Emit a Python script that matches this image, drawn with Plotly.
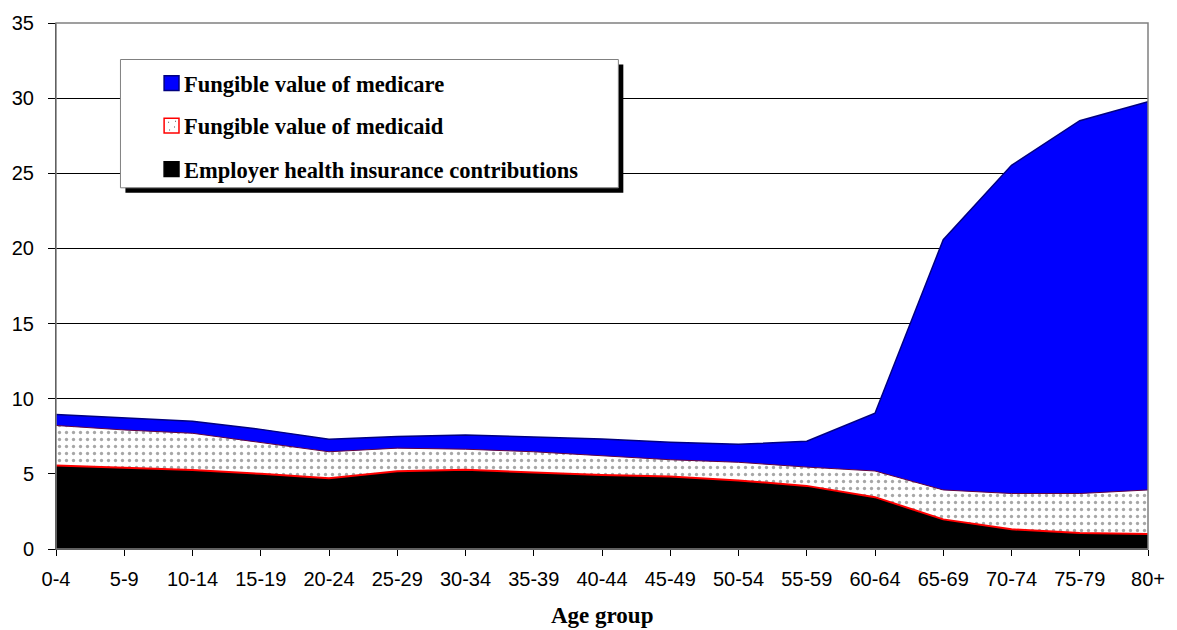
import plotly.graph_objects as go

age_groups = ["0-4", "5-9", "10-14", "15-19", "20-24", "25-29", "30-34", "35-39",
              "40-44", "45-49", "50-54", "55-59", "60-64", "65-69", "70-74", "75-79", "80+"]
employer = [5.55, 5.39, 5.26, 5.00, 4.71, 5.18, 5.28, 5.09, 4.93, 4.82, 4.56, 4.20, 3.45, 1.97, 1.31, 1.07, 1.00]
medicaid = [2.67, 2.53, 2.44, 2.08, 1.76, 1.53, 1.36, 1.38, 1.27, 1.12, 1.21, 1.25, 1.74, 1.96, 2.38, 2.62, 2.93]
medicare = [0.73, 0.81, 0.80, 0.88, 0.83, 0.77, 0.95, 0.99, 1.12, 1.16, 1.20, 1.72, 3.84, 16.65, 21.84, 24.81, 25.83]

legend_labels = ["Fungible value of medicare", "Fungible value of medicaid",
                 "Employer health insurance contributions"]

fig = go.Figure()
fig.add_trace(go.Scatter(x=age_groups, y=employer, stackgroup="s", mode="lines",
                         line=dict(color="#ff0000", width=2), fillcolor="#000000",
                         name=legend_labels[2], showlegend=False))
fig.add_trace(go.Scatter(x=age_groups, y=medicaid, stackgroup="s", mode="lines",
                         line=dict(color="#600040", width=1),
                         fillpattern=dict(shape=".", fgcolor="#505050", bgcolor="#ffffff",
                                          size=7, solidity=0.18),
                         name=legend_labels[1], showlegend=False))
fig.add_trace(go.Scatter(x=age_groups, y=medicare, stackgroup="s", mode="lines",
                         line=dict(color="#000080", width=1.5), fillcolor="#0000ff",
                         name=legend_labels[0], showlegend=False))

W, H = 1177, 630
L, R, T, B = 53, 1154, 16, 549

def px(x):
    return (x - L) / (R - L)

def py(y):
    return (B - y) / (B - T)

shapes = []
# plot border (top/right gray)
shapes.append(dict(type="rect", xref="paper", yref="paper", x0=0, y0=0, x1=1, y1=1,
                   line=dict(color="#808080", width=1.5), layer="above"))

# manual legend box with shadow
bx0, by0, bx1, by1 = 118, 53, 620, 183
shapes.append(dict(type="rect", xref="paper", yref="paper", x0=px(bx0 + 5), y0=py(by1 + 5),
                   x1=px(bx1 + 5), y1=py(by0 + 5), fillcolor="#000000",
                   line=dict(width=0), layer="above"))
shapes.append(dict(type="rect", xref="paper", yref="paper", x0=px(bx0), y0=py(by1),
                   x1=px(bx1), y1=py(by0), fillcolor="#ffffff",
                   line=dict(color="#808080", width=1), layer="above"))

sw_fill = ["#0000ff", "#ffffff", "#000000"]
sw_line = ["#000080", "#ff0000", "#000000"]
rows_y = [77, 120, 164]
annotations = []
for i, yy in enumerate(rows_y):
    shapes.append(dict(type="rect", xref="paper", yref="paper", x0=px(162), y0=py(yy + 7.5),
                       x1=px(177), y1=py(yy - 7.5), fillcolor=sw_fill[i],
                       line=dict(color=sw_line[i], width=1.5), layer="above"))
    annotations.append(dict(xref="paper", yref="paper", x=px(180), y=py(yy + 1),
                            text="<b>" + legend_labels[i] + "</b>",
                            showarrow=False, xanchor="left", yanchor="middle",
                            font=dict(family="Liberation Serif", size=22.5, color="#000000")))
# dots in medicaid swatch
for (dx, dy) in [(166, 116), (172, 121), (167, 124), (173, 115)]:
    shapes.append(dict(type="rect", xref="paper", yref="paper", x0=px(dx), y0=py(dy + 1),
                       x1=px(dx + 1), y1=py(dy), fillcolor="#555555", line=dict(width=0),
                       layer="above"))

annotations.append(dict(xref="paper", yref="paper", x=px(604), y=py(616),
                        text="<b>Age group</b>", showarrow=False,
                        xanchor="center", yanchor="middle",
                        font=dict(family="Liberation Serif", size=23, color="#000000")))

fig.update_layout(
    width=W, height=H,
    margin=dict(l=L, r=W - R, t=T, b=H - B, pad=0),
    paper_bgcolor="#ffffff", plot_bgcolor="#ffffff",
    showlegend=False,
    shapes=shapes, annotations=annotations,
    xaxis=dict(type="category", range=[0, 16], showgrid=False,
               showline=True, linecolor="#000000", linewidth=1,
               ticks="outside", ticklen=6, tickcolor="#000000",
               ticklabelstandoff=6,
               tickfont=dict(family="Liberation Sans", size=20, color="#000000"),
               zeroline=False),
    yaxis=dict(range=[0, 35], dtick=5, showgrid=True, gridcolor="#000000", gridwidth=1,
               showline=True, linecolor="#000000", linewidth=1,
               ticks="outside", ticklen=7, tickcolor="#000000",
               ticklabelstandoff=10,
               tickfont=dict(family="Liberation Sans", size=20, color="#000000"),
               zeroline=False),
)

fig.write_html("out.html", config={"displayModeBar": False},
               post_script="document.body.style.margin='0px';")
